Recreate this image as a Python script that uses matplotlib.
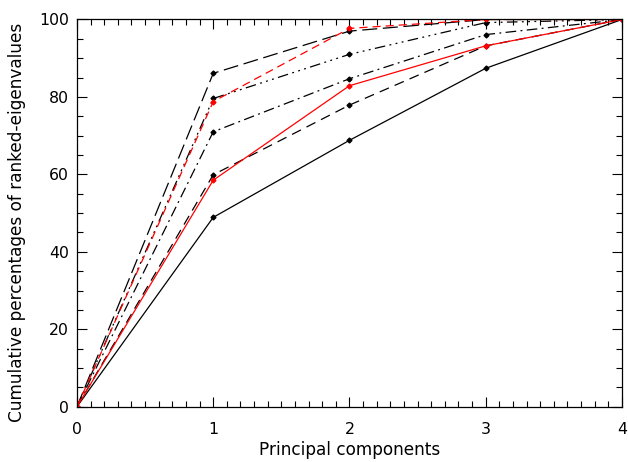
import matplotlib
matplotlib.use('Agg')
import matplotlib.pyplot as plt
from matplotlib.ticker import MultipleLocator

plt.rcParams['font.family'] = ['DejaVu Sans']

# principal component index
pcs = [0, 1, 2, 3, 4]

# cumulative percentages
solid_blk = [0, 48.9, 68.8, 87.4, 100]
dash_blk = [0, 59.9, 77.9, 93.2, 100]
dashdot_blk = [0, 71.0, 84.7, 96.1, 100]
dash3dot_blk = [0, 79.6, 91.0, 99.2, 100]
longdash_blk = [0, 86.1, 97.0, 100, 100]
solid_red = [0, 58.5, 82.9, 93.2, 100]
dash_red = [0, 78.8, 97.7, 100, 100]

fig = plt.figure(figsize=(6.28, 4.62), dpi=100)
ax = fig.add_axes([0.1226, 0.1197, 0.8678, 0.8381])

mk = dict(marker='D', markersize=2.5, lw=0.9)
ax.plot(pcs, solid_blk, color='black', ls='-', **mk)
ax.plot(pcs, dash_blk, color='black', ls=(0, (8, 5)), **mk)
ax.plot(pcs, dashdot_blk, color='black', ls=(0, (8.5, 3.5, 1.5, 3.5)), **mk)
ax.plot(pcs, dash3dot_blk, color='black',
        ls=(0, (8.5, 3.5, 1.5, 3.5, 1.5, 3.5, 1.5, 3.5)), **mk)
ax.plot(pcs, longdash_blk, color='black', ls=(0, (12, 4.5)), **mk)
ax.plot(pcs, solid_red, color='red', ls='-', **mk)
ax.plot(pcs, dash_red, color='red', ls=(0, (6.5, 4)), **mk)

ax.set_xlim(0, 4)
ax.set_ylim(0, 100)
ax.xaxis.set_major_locator(MultipleLocator(1))
ax.xaxis.set_minor_locator(MultipleLocator(0.1))
ax.yaxis.set_major_locator(MultipleLocator(20))
ax.yaxis.set_minor_locator(MultipleLocator(5))
ax.tick_params(which='both', direction='in', top=True, right=True,
               width=0.8, labelsize=11.3)
ax.tick_params(axis='x', which='both', pad=11)
ax.tick_params(axis='y', which='both', pad=6)
ax.tick_params(which='major', length=7)
ax.tick_params(which='minor', length=4)
for s in ax.spines.values():
    s.set_linewidth(0.9)

ax.set_xlabel('Principal components', fontsize=12.2, labelpad=3)
ax.set_ylabel('Cumulative percentages of ranked-eigenvalues', fontsize=12.2)
ax.yaxis.set_label_coords(-0.093, 0.477)

fig.savefig('out.png', dpi=100)
